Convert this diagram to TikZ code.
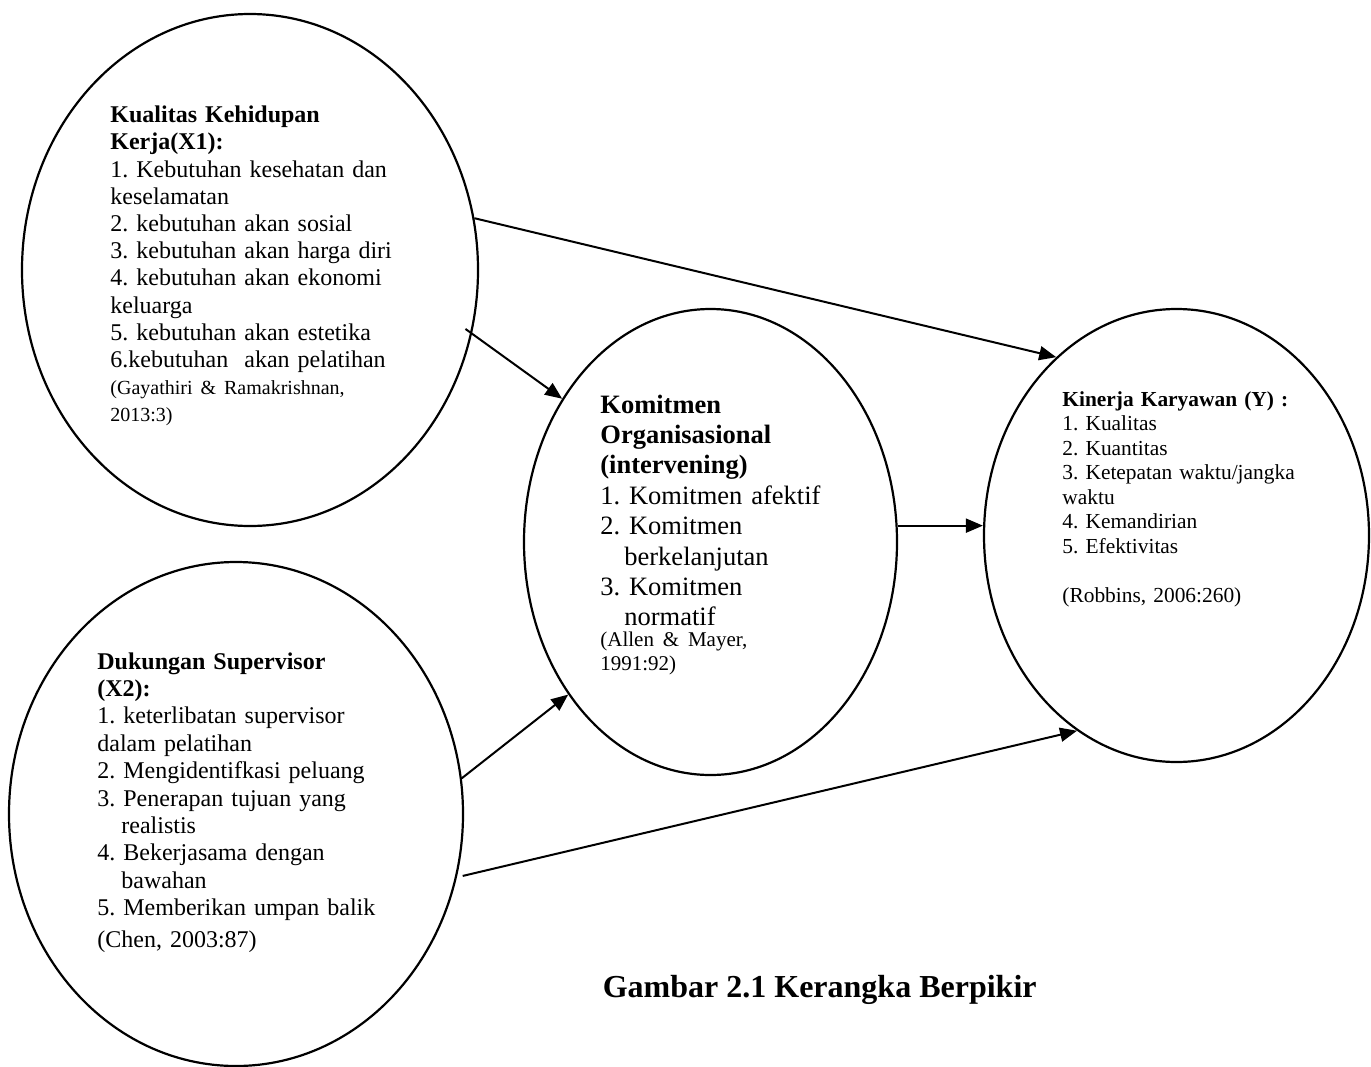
\documentclass[tikz,border=0pt]{standalone}
\usepackage{fontspec}
\setmainfont{Liberation Serif}
\usetikzlibrary{arrows.meta,shapes.geometric}
\frenchspacing

\begin{document}
\begin{tikzpicture}[
    x=0.5pt, y=-0.5pt,
    bubble/.style={draw, ellipse, line width=1.1pt, inner sep=0pt},
    txt/.style={anchor=base west, inner sep=0pt, align=left},
    link/.style={->, line width=1pt},
    >={Triangle[length=8.5pt,width=7pt]}
]
\useasboundingbox (0,0) rectangle (1371,1066);

% variables
\node[bubble, minimum width=228pt, minimum height=256pt] (kualitas) at (250,270) {};
\node[bubble, minimum width=227pt, minimum height=252pt] (dukungan) at (236,814) {};
\node[bubble, minimum width=186.5pt, minimum height=233pt] (komitmen) at (710.5,542) {};
\node[bubble, minimum width=192.5pt, minimum height=226.5pt] (kinerja) at (1176.5,535.5) {};

% indikator
\node[txt, text width=150pt, font=\fontsize{12pt}{13.6pt}\selectfont] (kualitasTxt) at (110,122.7)
  {\textbf{Kualitas Kehidupan}\\ \textbf{Kerja(X1):}\\ 1. Kebutuhan kesehatan dan\\ keselamatan\\
   2. kebutuhan akan sosial\\ 3. kebutuhan akan harga diri\\ 4. kebutuhan akan ekonomi\\ keluarga\\
   5. kebutuhan akan estetika\\ 6.kebutuhan\ \ akan pelatihan\\
   {\fontsize{10pt}{13.6pt}\selectfont (Gayathiri \& Ramakrishnan,\\ 2013:3)}};
\node[txt, text width=150pt, font=\fontsize{12pt}{13.7pt}\selectfont] (dukunganTxt) at (97,669)
  {\textbf{Dukungan Supervisor}\\ \textbf{(X2):}\\ 1. keterlibatan supervisor\\ dalam pelatihan\\
   2. Mengidentifkasi peluang\\ 3. Penerapan tujuan yang\\ \hspace*{12pt}realistis\\
   4. Bekerjasama dengan\\ \hspace*{12pt}bawahan\\ 5. Memberikan umpan balik\\[2pt] (Chen, 2003:87)};
\node[txt, text width=130pt, font=\fontsize{13.25pt}{15.2pt}\selectfont] (komitmenTxt) at (600,413)
  {\textbf{Komitmen}\\ \textbf{Organisasional}\\ \textbf{(intervening)}\\ 1. Komitmen afektif\\
   2. Komitmen\\ \hspace*{12pt}berkelanjutan\\ 3. Komitmen\\ \hspace*{12pt}normatif\\[-1.7pt]
   {\fontsize{10.5pt}{12pt}\selectfont (Allen \& Mayer,\\[-3.2pt] 1991:92)}};
\node[txt, text width=130pt, font=\fontsize{10.7pt}{12.25pt}\selectfont] (kinerjaTxt) at (1062,406)
  {\textbf{Kinerja Karyawan (Y) :}\\ 1. Kualitas\\ 2. Kuantitas\\ 3. Ketepatan waktu/jangka\\ waktu\\
   4. Kemandirian\\ 5. Efektivitas\\[12.25pt] (Robbins, 2006:260)};

\node[anchor=base east, inner sep=0pt, font=\bfseries\fontsize{16pt}{19pt}\selectfont] (judul) at (1037,997)
  {Gambar 2.1 Kerangka Berpikir};

% hubungan
\draw[link] (kualitas.13) -- (kinerja.124);
\draw[link, shorten <=-4pt] (kualitas.-16) -- (komitmen.136);
\draw[link] (dukungan.9) -- (komitmen.227);
\draw[link, shorten <=3pt] (dukungan.-16) -- (kinerja.243);
\draw[link] (komitmen.5) -- (komitmen.5 -| kinerja.west);
\end{tikzpicture}
\end{document}
